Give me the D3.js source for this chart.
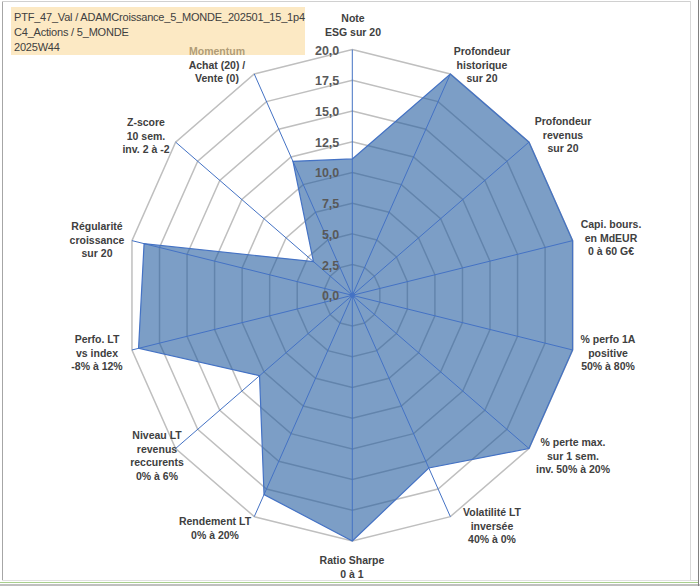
<!DOCTYPE html>
<html lang="fr">
<head>
<meta charset="utf-8">
<title>Radar PTF_47_Val</title>
<script src="https://cdn.jsdelivr.net/npm/d3@7"></script>
<style>
  body { margin: 0; background: #fff; }
  svg { display: block; }
  .cat { font-family: "Liberation Sans", Arial, sans-serif; font-size: 10.5px; font-weight: bold; fill: #404040; text-anchor: middle; }
  .tick { font-family: "Liberation Sans", Arial, sans-serif; font-size: 12.5px; font-weight: bold; fill: #595959; text-anchor: end; }
  .title { font-family: "Liberation Sans", Arial, sans-serif; font-size: 11px; letter-spacing: -0.2px; fill: #404040; }
</style>
</head>
<body>
<script>
// axes, clockwise from the top
var categories = [
  ["Note", "ESG sur 20"],
  ["Profondeur", "historique", "sur 20"],
  ["Profondeur", "revenus", "sur 20"],
  ["Capi. bours.", "en MdEUR", "0 à 60 G€"],
  ["% perfo 1A", "positive", "50% à 80%"],
  ["% perte max.", "sur 1 sem.", "inv. 50% à 20%"],
  ["Volatilité LT", "inversée", "40% à 0%"],
  ["Ratio Sharpe", "0 à 1"],
  ["Rendement LT", "0% à 20%"],
  ["Niveau LT", "revenus", "reccurents", "0% à 6%"],
  ["Perfo. LT", "vs index", "-8% à 12%"],
  ["Régularité", "croissance", "sur 20"],
  ["Z-score", "10 sem.", "inv. 2 à -2"],
  ["Momentum", "Achat (20) /", "Vente (0)"]
];
var values = [11.1, 20, 20, 20, 20, 20, 15.6, 20, 18.0, 10.5, 19.4, 18.9, 4.4, 12.1];
var tickValues = [0, 2.5, 5, 7.5, 10, 12.5, 15, 17.5, 20];
var tickLabels = ["0,0", "2,5", "5,0", "7,5", "10,0", "12,5", "15,0", "17,5", "20,0"];
var titleLines = ["PTF_47_Val / ADAMCroissance_5_MONDE_202501_15_1p4", "C4_Actions / 5_MONDE", "2025W44"];

var w = 700, h = 586;
var cx = 352.3, cy = 295.3;
var ry = 245.7, rx = 226;   // plot area is a bit squeezed horizontally
var n = categories.length;

var r = d3.scaleLinear().domain([0, 20]).range([0, 1]);
var angle = d3.scaleLinear().domain([0, n]).range([0, 2 * Math.PI]);

function pt(i, v) {
  var a = angle(i);
  return [cx + rx * r(v) * Math.sin(a), cy - ry * r(v) * Math.cos(a)];
}

// label anchor positions (centre of the text block), outside each axis
var labelPos = [
  [353, 18], [482, 51], [563, 121], [611, 224], [608, 339], [573, 442], [492, 512],
  [352, 560], [215, 521], [157, 435], [97, 339], [97, 226], [146, 122], [217, 51]
];

var svg = d3.select("body").append("svg")
  .attr("width", w)
  .attr("height", h);

// frame
svg.append("line").attr("x1", 2.5).attr("y1", 1).attr("x2", 2.5).attr("y2", 581).attr("stroke", "#a6a6a6");
svg.append("line").attr("x1", 2).attr("y1", 1.5).attr("x2", 690).attr("y2", 1.5).attr("stroke", "#d0d0d0");
svg.append("line").attr("x1", 690.5).attr("y1", 1).attr("x2", 690.5).attr("y2", 581).attr("stroke", "#d9d9d9");
svg.append("line").attr("x1", 2).attr("y1", 580.5).attr("x2", 698).attr("y2", 580.5).attr("stroke", "#e0e0e0");
svg.append("line").attr("x1", 0).attr("y1", 582.5).attr("x2", 698).attr("y2", 582.5).attr("stroke", "#a9d08e");
svg.append("line").attr("x1", 698.5).attr("y1", 0).attr("x2", 698.5).attr("y2", 586).attr("stroke", "#808080");
svg.append("line").attr("x1", 0).attr("y1", 585).attr("x2", 700).attr("y2", 585).attr("stroke", "#808080");

var line = d3.line();

// grid rings
svg.append("g").selectAll("path")
  .data(tickValues.slice(1))
  .enter()
  .append("path")
  .attr("d", function(t) {
    return line(d3.range(n).map(function(i) { return pt(i, t); })) + "Z";
  })
  .attr("fill", "none")
  .attr("stroke", "#bfbfbf")
  .attr("stroke-width", 1.5);

// data area
svg.append("path")
  .attr("d", line(values.map(function(v, i) { return pt(i, v); })) + "Z")
  .attr("fill", "rgb(37,93,160)")
  .attr("fill-opacity", 0.6)
  .attr("stroke", "#4472c4")
  .attr("stroke-width", 1.2)
  .attr("stroke-linejoin", "miter");

// spokes
svg.append("g").selectAll("line")
  .data(d3.range(n))
  .enter()
  .append("line")
  .attr("x1", cx).attr("y1", cy)
  .attr("x2", function(i) { return pt(i, 20)[0]; })
  .attr("y2", function(i) { return pt(i, 20)[1]; })
  .attr("stroke", "#4472c4")
  .attr("stroke-width", 1);

svg.append("circle").attr("cx", cx).attr("cy", cy).attr("r", 2.5).attr("fill", "#4472c4");

// value ticks along the top axis
svg.append("g").selectAll("text")
  .data(tickValues)
  .enter()
  .append("text")
  .attr("class", "tick")
  .attr("x", cx - 13)
  .attr("y", function(t) { return pt(0, t)[1] + 5; })
  .text(function(t, i) { return tickLabels[i]; });

// category labels
var lh = 13.5;
var cats = svg.append("g").selectAll("text")
  .data(categories)
  .enter()
  .append("text")
  .attr("class", "cat")
  .attr("x", function(d, i) { return labelPos[i][0]; })
  .attr("y", function(d, i) { return labelPos[i][1] + 4; });

cats.selectAll("tspan")
  .data(function(d, i) { return d.map(function(s) { return { s: s, i: i }; }); })
  .enter()
  .append("tspan")
  .attr("x", function(d) { return labelPos[d.i][0]; })
  .attr("dy", function(d, j) { return j === 0 ? 0 : lh; })
  .text(function(d) { return d.s; });

// title box (semi transparent, sits over the Momentum label)
svg.append("rect")
  .attr("x", 11).attr("y", 7)
  .attr("width", 294).attr("height", 48)
  .attr("fill", "rgb(250,218,157)")
  .attr("fill-opacity", 0.6);

svg.append("g").selectAll("text")
  .data(titleLines)
  .enter()
  .append("text")
  .attr("class", "title")
  .attr("x", 14)
  .attr("y", function(d, i) { return 21 + i * 15; })
  .text(function(d) { return d; });
</script>
</body>
</html>
